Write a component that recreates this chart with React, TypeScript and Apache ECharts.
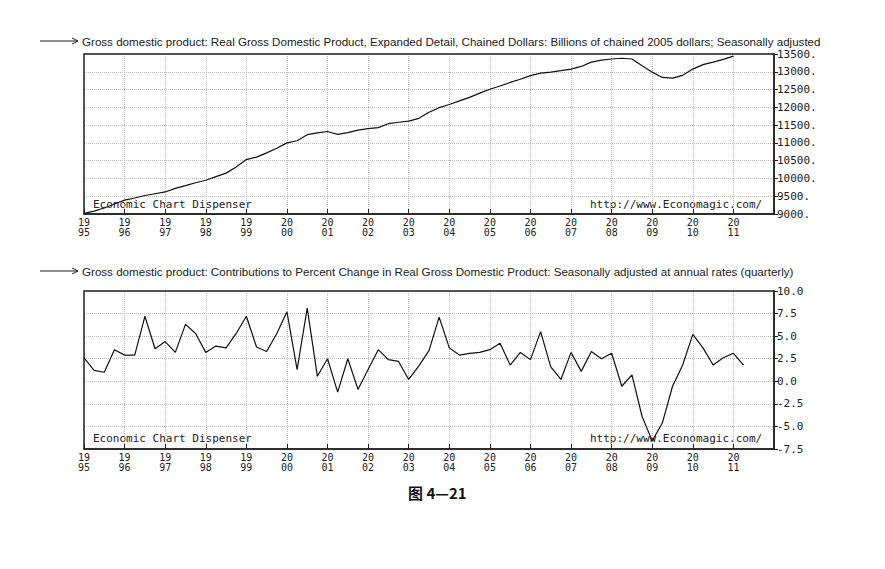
import { useEffect, useRef } from 'react';
import * as echarts from 'echarts';

// quarterly, starting 1995 Q1
const gdpLevel = [
  9020, 9080, 9170, 9280, 9390, 9450, 9520, 9570, 9620, 9720, 9800, 9880,
  9950, 10050, 10150, 10320, 10530, 10600, 10720, 10850, 11000, 11060, 11230, 11280,
  11320, 11240, 11290, 11360, 11400, 11430, 11540, 11580, 11610, 11690, 11860, 11990,
  12080, 12180, 12280, 12400, 12510, 12600, 12700, 12790, 12890, 12960, 12990, 13030,
  13075, 13150, 13270, 13330, 13360, 13380, 13360, 13170, 12990, 12840, 12820, 12900,
  13075, 13200, 13270, 13350, 13440,
];

const gdpChange = [
  2.6, 1.2, 1.0, 3.5, 2.9, 2.9, 7.2, 3.6, 4.4, 3.2, 6.3, 5.3,
  3.2, 3.9, 3.7, 5.3, 7.2, 3.8, 3.3, 5.3, 7.7, 1.3, 8.1, 0.55,
  2.5, -1.2, 2.5, -0.9, 1.3, 3.5, 2.4, 2.2, 0.2, 1.7, 3.4, 7.1,
  3.7, 2.9, 3.1, 3.2, 3.5, 4.2, 1.8, 3.2, 2.4, 5.5, 1.6, 0.2,
  3.2, 1.1, 3.3, 2.5, 3.1, -0.55, 0.7, -3.9, -6.6, -4.6, -0.55, 1.8,
  5.2, 3.7, 1.8, 2.6, 3.1, 1.8,
];

const topTitle =
  'Gross domestic product: Real Gross Domestic Product, Expanded Detail, Chained Dollars: Billions of chained 2005 dollars; Seasonally adjusted';
const bottomTitle =
  'Gross domestic product: Contributions to Percent Change in Real Gross Domestic Product: Seasonally adjusted at annual rates (quarterly)';

const toPoints = (arr: number[]) => arr.map((v, i) => [1995 + i / 4, v]);

const mono = 'DejaVu Sans Mono';
const sans = 'Liberation Sans';

export default function App() {
  const ref = useRef<HTMLDivElement>(null);

  useEffect(() => {
    if (!ref.current) return;
    const chart = echarts.init(ref.current, undefined, { renderer: 'svg' });

    const xAxis = (gi: number) => ({
      type: 'value',
      gridIndex: gi,
      min: 1995,
      max: 2012,
      interval: 1,
      axisLine: { onZero: false, lineStyle: { color: '#222', width: 1.5 } },
      axisTick: { inside: true, length: 5, lineStyle: { color: '#222' } },
      axisLabel: {
        color: '#222',
        fontFamily: mono,
        fontSize: 10,
        lineHeight: 10,
        margin: 3,
        formatter: (v: number) => (v > 2011 ? '' : `${String(v).slice(0, 2)}\n${String(v).slice(2)}`),
      },
      splitLine: { show: true, lineStyle: { color: '#bbb', type: 'dotted' } },
    });

    const yAxis = (gi: number, min: number, max: number, interval: number, fmt: (v: number) => string) => ({
      type: 'value',
      gridIndex: gi,
      position: 'right',
      min,
      max,
      interval,
      axisLine: { show: true, lineStyle: { color: '#222', width: 1.5 } },
      axisTick: { show: true, length: 4, lineStyle: { color: '#222' } },
      axisLabel: { color: '#222', fontFamily: mono, fontSize: 11, margin: 3, formatter: fmt },
      splitLine: { show: true, lineStyle: { color: '#bbb', type: 'dotted' } },
    });

    const caption = (left: number, top: number, text: string) => ({
      type: 'text',
      left,
      top,
      style: { text, fill: '#222', font: `11px "${mono}"` },
    });

    const frame = (y: number, h: number) => ({
      type: 'rect',
      shape: { x: 84, y, width: 690, height: h },
      style: { fill: 'none', stroke: '#222', lineWidth: 1.5 },
      z: 10,
    });

    const titleLine = (top: number, text: string) => [
      { type: 'line', shape: { x1: 40, y1: top + 6, x2: 78, y2: top + 6 }, style: { stroke: '#222', lineWidth: 1 } },
      {
        type: 'polyline',
        shape: { points: [[72, top + 3], [78, top + 6], [72, top + 9]] },
        style: { stroke: '#222', fill: 'none', lineWidth: 1 },
      },
      { type: 'text', x: 82, y: top, style: { text, fill: '#222', font: `11.6px "${sans}"` } },
    ];

    chart.setOption({
      animation: false,
      backgroundColor: '#fff',
      grid: [
        { left: 84, right: 111, top: 54, height: 160 },
        { left: 84, right: 111, top: 291, height: 158 },
      ],
      xAxis: [xAxis(0), xAxis(1)],
      yAxis: [
        yAxis(0, 9000, 13500, 500, (v) => `${v}.`),
        yAxis(1, -7.5, 10, 2.5, (v) => v.toFixed(1)),
      ],
      series: [
        {
          type: 'line',
          xAxisIndex: 0,
          yAxisIndex: 0,
          data: toPoints(gdpLevel),
          showSymbol: false,
          lineStyle: { color: '#111', width: 1.2 },
        },
        {
          type: 'line',
          xAxisIndex: 1,
          yAxisIndex: 1,
          data: toPoints(gdpChange),
          showSymbol: false,
          lineStyle: { color: '#111', width: 1.2 },
        },
      ],
      graphic: [
        ...titleLine(35, topTitle),
        ...titleLine(265, bottomTitle),
        frame(54, 160),
        frame(291, 158),
        caption(93, 199, 'Economic Chart Dispenser'),
        caption(590, 199, 'http://www.Economagic.com/'),
        caption(93, 433, 'Economic Chart Dispenser'),
        caption(590, 433, 'http://www.Economagic.com/'),
        {
          type: 'text',
          left: 408,
          top: 485,
          style: { text: '图 4—21', fill: '#111', font: `bold 15px "Noto Sans CJK SC"` },
        },
      ],
    });

    return () => chart.dispose();
  }, []);

  return <div ref={ref} style={{ position: 'fixed', left: 0, top: 0, width: 885, height: 569 }} />;
}
